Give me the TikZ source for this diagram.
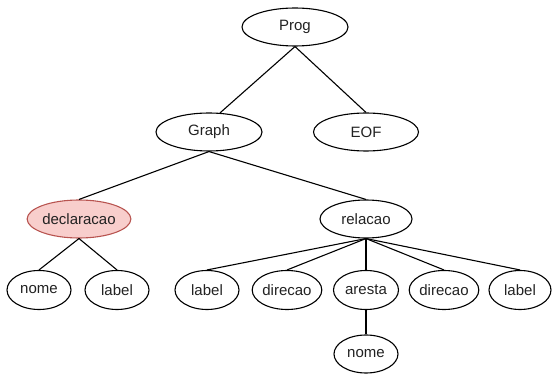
\documentclass[tikz,border=0pt]{standalone}
\usepackage{fontspec}
\setmainfont{Liberation Sans}
\usetikzlibrary{shapes.geometric}
\definecolor{txt}{HTML}{222222}
\definecolor{redfill}{HTML}{F8CECC}
\definecolor{redline}{HTML}{B85450}
\tikzset{
  el/.style={ellipse, draw=black, line width=1.1pt, fill=white, inner sep=0pt,
    minimum height=38pt, text=txt, font=\fontsize{15}{17}\selectfont},
  edge/.style={draw=black, line width=1.1pt},
}
\begin{document}
\begin{tikzpicture}[x=1pt,y=-1pt]
\useasboundingbox (0,0) rectangle (552,374);
\node[el, minimum width=106pt] (prog) at (295,27) {Prog};
\node[el, minimum width=106pt] (graph) at (209,132) {Graph};
\node[el, minimum width=105pt] (eof) at (366,132) {EOF};
\node[el, minimum width=95pt, fill=redfill, draw=redline] (decl) at (79,219) {declaracao};
\node[el, minimum width=92pt] (rel) at (366,219) {relacao};
\node[el, minimum width=64pt, minimum height=39pt] (nome1) at (39,290) {nome};
\node[el, minimum width=64pt, minimum height=39pt] (label1) at (117,290) {label};
\node[el, minimum width=64pt, minimum height=39pt] (label2) at (207,290) {label};
\node[el, minimum width=65pt, minimum height=39pt] (dir1) at (287,290) {direcao};
\node[el, minimum width=65pt, minimum height=39pt] (aresta) at (366,290) {aresta};
\node[el, minimum width=65pt, minimum height=39pt] (dir2) at (444,290) {direcao};
\node[el, minimum width=62pt, minimum height=39pt] (label3) at (520,290) {label};
\node[el, minimum width=64pt] (nome2) at (366,354) {nome};
\draw[edge] (prog.south) -- (graph.60);
\draw[edge] (prog.south) -- (eof.north);
\draw[edge] (graph.south) -- (decl.north);
\draw[edge] (graph.south) -- (rel.north);
\draw[edge] (decl.south) -- (nome1.north);
\draw[edge] (decl.south) -- (label1.north);
\draw[edge] (rel.south) -- (label2.north);
\draw[edge] (rel.south) -- (dir1.north);
\draw[edge] (rel.south) -- (aresta.north);
\draw[edge] (rel.south) -- (dir2.north);
\draw[edge] (rel.south) -- (label3.north);
\draw[edge] (aresta.south) -- (nome2.north);
\end{tikzpicture}
\end{document}
